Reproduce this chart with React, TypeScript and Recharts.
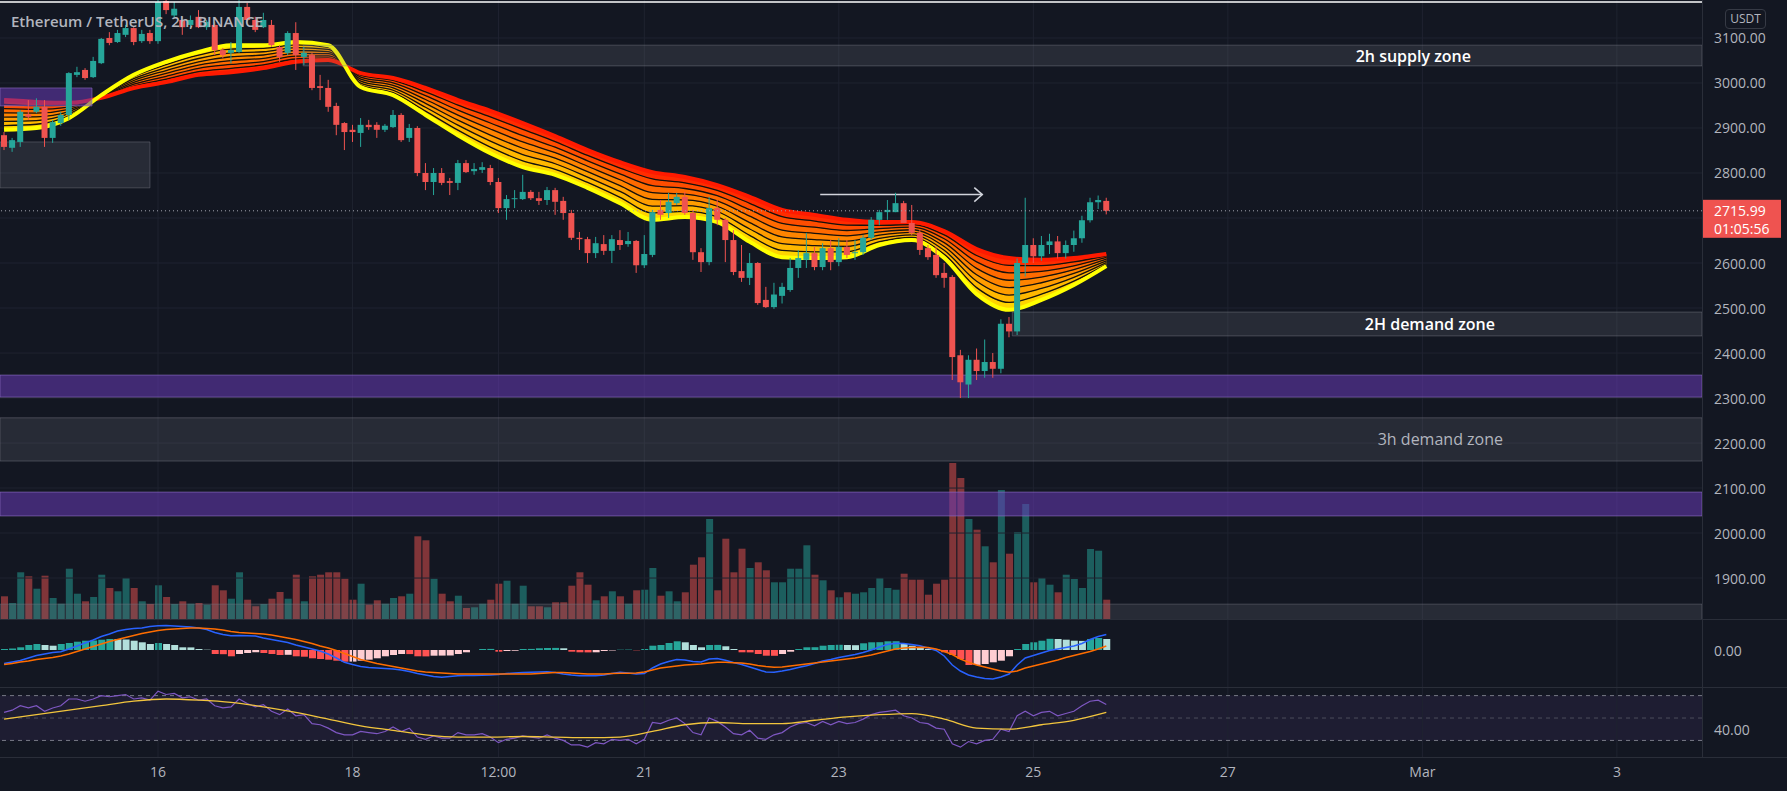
import React from 'react';
import {
  ComposedChart,
  Bar,
  Line,
  Area,
  XAxis,
  YAxis,
  ReferenceLine,
  ReferenceArea,
  Cell,
} from 'recharts';

// ETHUSDT 2h candles (index 0 = Feb 14 10:00, one slot per 2h)
const opens = [
  2884, 2856, 2869, 2930, 2936, 2947, 2878, 2911, 2929, 3018,
  3029, 3013, 3044, 3100, 3091, 3107, 3122, 3093, 3111, 3093,
  3182, 3150, 3140, 3129, 3147, 3124, 3129, 3073, 3067, 3069,
  3169, 3140, 3124, 3129, 3080, 3067, 3111, 3058, 3062, 2993,
  2989, 2949, 2911, 2896, 2889, 2907, 2907, 2896, 2902, 2929,
  2878, 2900, 2800, 2780, 2800, 2782, 2778, 2822, 2804, 2807,
  2811, 2780, 2722, 2742, 2742, 2758, 2744, 2740, 2762, 2738,
  2711, 2656, 2653, 2622, 2642, 2627, 2651, 2642, 2649, 2595,
  2618, 2718, 2711, 2733, 2747, 2711, 2624, 2602, 2722, 2696,
  2651, 2582, 2567, 2600, 2518, 2502, 2527, 2540, 2589, 2607,
  2622, 2591, 2633, 2602, 2636, 2622, 2624, 2656, 2696, 2713,
  2713, 2733, 2689, 2667, 2633, 2618, 2578, 2569, 2395, 2330,
  2385, 2360, 2380, 2365, 2465, 2448, 2600, 2640, 2615, 2640,
  2648, 2622, 2640, 2655, 2695, 2735, 2738,
];
const highs = [
  2891, 2878, 2940, 2962, 2966, 2962, 2918, 2936, 3024, 3036,
  3033, 3058, 3100, 3113, 3118, 3129, 3124, 3118, 3118, 3195,
  3200, 3180, 3147, 3150, 3162, 3140, 3135, 3078, 3091, 3184,
  3178, 3147, 3156, 3140, 3084, 3115, 3135, 3080, 3067, 3018,
  3007, 2956, 2913, 2907, 2922, 2918, 2913, 2909, 2940, 2933,
  2909, 2904, 2822, 2811, 2811, 2789, 2829, 2829, 2822, 2824,
  2818, 2789, 2751, 2762, 2796, 2762, 2758, 2769, 2767, 2747,
  2718, 2669, 2658, 2658, 2662, 2662, 2673, 2669, 2651, 2662,
  2718, 2740, 2756, 2756, 2758, 2718, 2633, 2747, 2740, 2700,
  2673, 2640, 2622, 2602, 2547, 2556, 2556, 2611, 2629, 2667,
  2636, 2644, 2651, 2655, 2651, 2651, 2662, 2702, 2718, 2740,
  2756, 2738, 2729, 2673, 2640, 2636, 2600, 2573, 2407, 2395,
  2410, 2430, 2400, 2475, 2480, 2610, 2745, 2655, 2660, 2665,
  2660, 2650, 2672, 2705, 2745, 2750, 2745,
];
const lows = [
  2851, 2847, 2858, 2918, 2933, 2858, 2867, 2905, 2918, 3013,
  3007, 3011, 3042, 3084, 3089, 3102, 3084, 3089, 3087, 3087,
  3153, 3145, 3107, 3122, 3122, 3118, 3062, 3055, 3044, 3067,
  3133, 3113, 3122, 3080, 3047, 3062, 3029, 3040, 2984, 2962,
  2936, 2884, 2851, 2869, 2858, 2896, 2878, 2891, 2900, 2869,
  2869, 2793, 2762, 2751, 2773, 2751, 2762, 2800, 2796, 2800,
  2773, 2711, 2696, 2722, 2740, 2740, 2729, 2729, 2707, 2696,
  2651, 2629, 2600, 2611, 2618, 2600, 2629, 2636, 2578, 2589,
  2613, 2696, 2700, 2729, 2707, 2607, 2580, 2595, 2684, 2602,
  2573, 2558, 2551, 2507, 2500, 2498, 2510, 2536, 2567, 2589,
  2584, 2584, 2584, 2593, 2611, 2607, 2618, 2651, 2684, 2696,
  2713, 2689, 2662, 2618, 2607, 2567, 2545, 2340, 2300, 2300,
  2340, 2345, 2345, 2355, 2435, 2440, 2570, 2600, 2605, 2620,
  2610, 2610, 2625, 2645, 2690, 2720, 2708,
];
const closes = [
  2858, 2873, 2936, 2925, 2947, 2878, 2913, 2929, 3022, 3024,
  3011, 3049, 3098, 3089, 3111, 3122, 3091, 3109, 3093, 3180,
  3162, 3165, 3124, 3140, 3124, 3136, 3073, 3062, 3073, 3169,
  3140, 3118, 3140, 3084, 3058, 3111, 3062, 3067, 2989, 2989,
  2947, 2907, 2891, 2891, 2907, 2902, 2896, 2905, 2929, 2873,
  2900, 2800, 2780, 2800, 2778, 2778, 2822, 2802, 2809, 2813,
  2780, 2722, 2742, 2744, 2758, 2744, 2738, 2762, 2736, 2711,
  2656, 2653, 2622, 2644, 2627, 2653, 2640, 2649, 2595, 2620,
  2713, 2707, 2736, 2747, 2711, 2624, 2602, 2722, 2696, 2651,
  2580, 2567, 2600, 2511, 2502, 2530, 2547, 2589, 2611, 2622,
  2591, 2633, 2602, 2636, 2618, 2624, 2656, 2696, 2713, 2718,
  2733, 2689, 2667, 2629, 2613, 2573, 2567, 2391, 2335, 2385,
  2360, 2380, 2365, 2465, 2448, 2600, 2640, 2615, 2640, 2648,
  2622, 2640, 2655, 2695, 2735, 2740, 2715.99,
];
const volumes = [
  22.7, 16, 46.7, 42.7, 30.3, 43.3, 21, 15.3, 50.3, 25.3,
  17.7, 22, 44.3, 31, 27.7, 41, 31, 17.7, 15, 33.7,
  22, 15, 17.7, 15.3, 16, 14.3, 33.7, 28.7, 20.3, 46.7,
  19.3, 12.7, 15, 20.3, 27, 20.3, 44.3, 17.7, 42.7, 44.3,
  46.7, 46.7, 40.3, 19.3, 35.3, 14.3, 18.7, 15.3, 21, 22.7,
  25.3, 82.7, 78.7, 40.3, 25.3, 17.7, 23.3, 11, 11.7, 15.3,
  19.3, 35.3, 38.3, 15.3, 33.3, 12.7, 12.7, 11.7, 16.7, 16.7,
  33.3, 46.7, 34.3, 18.7, 22.7, 27.7, 22.7, 15.3, 28.7, 29.3,
  51, 23.3, 27.7, 17.7, 26.7, 54.3, 61.7, 100, 28.7, 80.3,
  46.7, 70.3, 51, 56.7, 48.7, 36.7, 36.7, 50.3, 50.3, 73.7,
  44.3, 38.7, 28.7, 21.7, 26.7, 25.3, 26.7, 31, 41, 31,
  29.3, 45.3, 39.3, 39.3, 24.3, 35.3, 39.3, 156, 141, 100,
  89.3, 72.7, 56.7, 129, 65.3, 87, 115, 36.7, 41, 34.3,
  26.7, 44.3, 40, 31, 70, 68.3, 19.3,
];
const macdLine = [
  -13.5, -12, -10.5, -8, -5.5, -4, -2.5, -1.7, 1, 4,
  7, 10, 13.5, 16, 19, 20.5, 21.5, 22, 23.5, 24.3,
  24.5, 24, 23.5, 23, 22, 20.5, 17.5, 15.5, 14.3, 14.5,
  14.3, 14, 12, 10.5, 9, 7.5, 5, 3, 1, -1,
  -4, -8, -12.3, -14.5, -16.5, -17.5, -18, -18.5, -19, -20,
  -21.5, -23.5, -25, -26.5, -27.3, -26.5, -25.7, -25.5, -25.5, -25.2,
  -25, -24.5, -23.5, -23, -22.5, -22.3, -22, -21.7, -22.5, -24,
  -25, -25.7, -25.7, -25.7, -25, -23.5, -22.3, -23, -24, -23.5,
  -18, -14, -11.5, -9.5, -10, -11.5, -12, -9, -8.5, -10.3,
  -12.5, -14.5, -17, -19.5, -22, -22.3, -21, -19.5, -17.5, -15.7,
  -13.5, -11, -9.5, -7.5, -6, -4.5, -2.5, 0, 3, 5.5,
  6.7, 6.5, 5.5, 4.3, 2, -0.5, -6, -15, -21, -25,
  -27, -28.5, -29, -27, -24, -15, -8, -5.5, -3, -0.5,
  1, 2.5, 4, 6.5, 10.5, 13.5, 15.5,
];
const signalLine = [
  -14.5, -13.5, -12, -11, -9.5, -8.5, -7.5, -6, -4, -1.5,
  1, 3.5, 6, 8.5, 10.5, 12.5, 14.5, 16.5, 18, 19.5,
  20.5, 21, 21.5, 22, 22, 21.5, 21, 20, 18.5, 17.5,
  17, 16.5, 16, 15, 13.5, 12, 10.5, 8.5, 6.5, 4,
  2, -0.5, -3.5, -6.5, -9.5, -11.5, -13.5, -15, -16.5, -18,
  -19.5, -21, -22, -22.5, -23, -23.5, -24, -24, -24, -24,
  -24, -24, -24, -24, -24, -24, -23.5, -23, -22.5, -22.5,
  -23, -23.5, -24, -24, -24, -23.5, -23.3, -23.3, -23, -22,
  -20, -18, -17, -16, -15, -14.5, -14, -13, -12.3, -12.3,
  -12.7, -13, -14, -15.5, -16.5, -17.3, -17, -16, -15, -14,
  -13, -12, -11, -10, -9, -8, -6.5, -5, -3, -1,
  1, 2, 2.5, 2.7, 2.5, 1, -1.5, -4.5, -9, -12.3,
  -15, -17, -19, -21, -22.3, -21, -18, -16, -14, -12,
  -10, -7.5, -5.5, -3.5, -1.5, 1, 4,
];
const macdHist = [
  1, 1.5, 2.7, 5, 6, 5, 4.3, 6, 7, 8.3,
  9.3, 9.5, 10.3, 11, 10.9, 10.6, 9.3, 7.7, 6, 7,
  6, 5, 2.7, 2.6, 1, 0.3, -4, -4.2, -6.3, -4,
  -3, -2.3, -3, -4, -5, -4.8, -6.3, -6.7, -8.3, -9,
  -9.7, -10.7, -11.7, -11.6, -10.7, -9.7, -8.3, -6.3, -5, -4,
  -4.1, -6.3, -6.4, -5.7, -5.6, -5.5, -4, -2.3, 0, 1,
  1.1, -1.7, -1, -0.7, 1, 1.1, 1.7, 2, 2.1, 1.7,
  -1.7, -2.3, -2.4, -2.3, -1, -0.5, 0.3, 0.4, -0.3, 1,
  4.3, 5, 7, 8.7, 7.7, 5, 2.7, 5, 5.1, 3.7,
  1, -2.3, -2.4, -4, -5.7, -5.8, -4, -1.7, 1, 2.7,
  2.8, 4.3, 5, 5.2, 5, 4.8, 6.7, 7.7, 7.8, 8.7,
  8.8, 6, 4.3, 2.7, 1, 0.3, -2.3, -5, -9, -15,
  -14.9, -14, -12.3, -10.7, -6.3, 1, 6, 7.7, 9.3, 11.2,
  11, 10.3, 9.3, 9.1, 11, 12, 11,
];
const rsiLine = [
  55, 57, 61, 59, 61, 56, 59, 61, 67, 67,
  65, 67, 70, 69, 70, 71, 67, 68, 66, 74,
  71, 72, 68, 69, 66, 67, 61, 59, 60, 67,
  63, 60, 62, 56, 53, 58, 52, 53, 45, 44,
  41, 37, 35, 35, 38, 37, 36, 38, 42, 38,
  41, 33, 31, 34, 32, 32, 37, 35, 35, 36,
  33, 28, 31, 32, 34, 33, 32, 35, 32, 30,
  26, 26, 24, 28, 27, 31, 30, 31, 27, 31,
  46, 45, 48, 50, 45, 37, 35, 50, 47, 42,
  36, 35, 39, 32, 31, 35, 37, 42, 45, 46,
  43, 47, 44, 47, 45, 46, 49, 53, 55, 56,
  57, 52, 50, 46, 45, 41, 40, 27, 24, 29,
  27, 30, 31, 40, 38, 52, 56, 52, 55, 56,
  52, 54, 56, 61, 65, 66, 62,
];
// smooth lines, read every 4th candle
const sampleIndex = [
  0, 4, 8, 12, 16, 20, 24, 28, 32, 36, 40, 44, 48, 52, 56, 60, 64, 68,
  72, 76, 80, 84, 88, 92, 96, 100, 104, 108, 112, 116, 120, 124, 128, 132, 136,
];
const rsiMa = [
  49, 53, 57, 61, 65, 67, 66, 64, 60, 55, 49, 43, 39, 35, 33, 33, 33.5, 33,
  32.5, 33, 38, 44, 46, 45, 45, 48, 51, 53, 54, 49, 41, 40, 44, 48, 55,
];
const ribbonFast = [
  2896, 2900, 2922, 2973, 3018, 3047, 3069, 3084, 3084, 3091, 3084, 2991, 2973, 2929, 2884, 2844, 2813, 2796,
  2767, 2733, 2696, 2702, 2691, 2647, 2613, 2611, 2613, 2640, 2651, 2611, 2531, 2496, 2518, 2551, 2593,
];
const ribbonSlow = [
  2962, 2958, 2956, 2967, 2989, 3002, 3018, 3024, 3033, 3047, 3051, 3022, 3011, 2989, 2962, 2938, 2911, 2882,
  2851, 2824, 2802, 2791, 2773, 2747, 2718, 2707, 2696, 2691, 2691, 2671, 2631, 2611, 2607, 2611, 2620,
];

const priceTicks = [1900, 2000, 2100, 2200, 2300, 2400, 2500, 2600, 2700, 2800, 2900, 3000, 3100];
const dayTickIndex = [19, 43, 61, 79, 103, 127, 151, 175, 199];
const dayTickLabels = ['16', '18', '12:00', '21', '23', '25', '27', 'Mar', '3'];

// drawn zones: label, low, high, start slot, end slot, kind
const zoneLabels = ['', '', '2h supply zone', '2H demand zone', '', '3h demand zone', '', ''];
const zoneLow = [2767, 2949, 3038, 2438, 2302, 2160, 2038, 1807];
const zoneHigh = [2869, 2989, 3084, 2491, 2351, 2256, 2091, 1842];
const zoneStart = [-0.5, -0.5, 36.9, 124.4, -0.5, -0.5, -0.5, -0.5];
const zoneEnd = [18, 10.85, 209.5, 209.5, 209.5, 209.5, 209.5, 209.5];
const zoneKind = ['gray', 'purple', 'gray', 'gray', 'purple', 'gray', 'purple', 'gray'];

const arrowLevel = 2752;
const arrowFrom = 100.7;
const arrowTo = 120.7;
const topLineLevel = 3180;
const lastPrice = 2715.99;
const countdown = '01:05:56';

const W = 1787;
const AXIS_W = 85;
const SLOTS = 210;
const MAIN_H = 619;
const MACD_H = 68;
const RSI_H = 70;
const TIME_H = 34;
const PRICE_DOMAIN: [number, number] = [1809, 3184.4];
const NUM_DOMAIN: [number, number] = [-0.5, SLOTS - 0.5];

const BG = '#131722';
const UP = '#26a69a';
const DOWN = '#ef5350';
const GRID = '#1f2330';
const SEP = '#2a2e39';
const TEXT = '#b2b5be';
const FONT = '"Open Sans", "Noto Sans", sans-serif';
const bandFills = ['#ffd400', '#ffb800', '#ff9d00', '#ff8400', '#ff6a00', '#ff4d00', '#ff2c00'];

const LAST = closes.length - 1;
// the last-price tag covers the scale label next to it
const axisTicks = priceTicks.filter((t) => Math.abs(t - lastPrice) > 40);

const bandRows = Array.from({ length: SLOTS }, (_, i) => {
  if (i > LAST) return { i } as any;
  return {
    i,
    o: opens[i],
    h: highs[i],
    l: lows[i],
    c: closes[i],
    range: [lows[i], highs[i]],
    vol: volumes[i],
    macd: macdLine[i],
    signal: signalLine[i],
    hist: macdHist[i],
    rsi: rsiLine[i],
  } as any;
});
sampleIndex.forEach((idx, n) => {
  bandRows[idx].rsiMa = rsiMa[n];
});

const ribbonRows = sampleIndex.map((idx, n) => {
  const row: any = { i: idx };
  const f = ribbonFast[n];
  const s = ribbonSlow[n];
  const lv: number[] = [];
  for (let k = 0; k <= 7; k++) lv.push(f + ((s - f) * k) / 7);
  for (let k = 0; k <= 7; k++) row['l' + k] = lv[k];
  for (let k = 0; k < 7; k++) row['b' + k] = [lv[k], lv[k + 1]];
  return row;
});

const histColor = (i: number) => {
  const h = macdHist[i];
  const prev = i > 0 ? macdHist[i - 1] : 0;
  if (h >= 0) return h >= prev ? '#26a69a' : '#b2dfdb';
  return h < prev ? '#ff5252' : '#ffcdd2';
};

const Candle = (props: any) => {
  const { x, y, width, height, payload } = props;
  if (!payload || payload.o == null) return null;
  const { o, h, l, c } = payload;
  const color = c >= o ? UP : DOWN;
  const k = h === l ? 0 : height / (h - l);
  const top = y + (h - Math.max(o, c)) * k;
  const bot = y + (h - Math.min(o, c)) * k;
  const cx = x + width / 2;
  return (
    <g>
      <line x1={cx} x2={cx} y1={y} y2={y + height} stroke={color} strokeWidth={1} />
      <rect x={x} y={top} width={width} height={Math.max(1, bot - top)} fill={color} />
    </g>
  );
};

const rightTick = (fmt: (v: number) => string) => (p: any) => (
  <text
    x={1714}
    y={p.y}
    fill={TEXT}
    fontSize={14}
    fontFamily={FONT}
    dominantBaseline="central"
  >
    {fmt(p.payload.value)}
  </text>
);

const PriceTag = ({ viewBox }: any) => {
  const x = viewBox.x + viewBox.width;
  const y = viewBox.y;
  return (
    <g fontFamily={FONT} fontSize={14} fill="#ffffff">
      <rect x={x} y={y - 11} width={79} height={38} fill={DOWN} />
      <text x={x + 12} y={y} dominantBaseline="central">
        {lastPrice.toFixed(2)}
      </text>
      <text x={x + 12} y={y + 18} dominantBaseline="central">
        {countdown}
      </text>
    </g>
  );
};

const Arrow = (p: any) => (
  <g stroke="#d1d4dc" strokeWidth={1.5} fill="none">
    <line x1={p.x1} y1={p.y1} x2={p.x2} y2={p.y2} />
    <polyline points={`${p.x2 - 8},${p.y2 - 7} ${p.x2},${p.y2} ${p.x2 - 8},${p.y2 + 7}`} />
  </g>
);

const zoneLabel = (text: string, right: number, color: string, weight: number) => (p: any) => {
  const vb = p.viewBox;
  return (
    <text
      x={vb.x + vb.width - right}
      y={vb.y + vb.height / 2}
      textAnchor="end"
      dominantBaseline="central"
      fill={color}
      fontSize={16}
      fontWeight={weight}
      fontFamily={FONT}
    >
      {text}
    </text>
  );
};
const labelRight = [0, 0, 231, 207, 0, 199, 0, 0];

const layer = (top: number): React.CSSProperties => ({ position: 'absolute', left: 0, top });

export default function App() {
  return (
    <div
      style={{
        position: 'absolute',
        left: 0,
        top: 0,
        width: W,
        height: 791,
        background: BG,
        overflow: 'hidden',
        fontFamily: FONT,
      }}
    >
      {/* grid + volume */}
      <div style={layer(0)}>
        <ComposedChart width={W} height={MAIN_H} data={bandRows} margin={{ top: 0, right: AXIS_W, bottom: 0, left: 0 }}>
          <XAxis dataKey="i" type="category" scale="band" hide />
          <YAxis yAxisId="p" type="number" domain={PRICE_DOMAIN} allowDataOverflow hide />
          <YAxis yAxisId="v" type="number" domain={[0, MAIN_H]} allowDataOverflow hide />
          {priceTicks.map((t) => (
            <ReferenceLine key={'h' + t} yAxisId="p" y={t} stroke={GRID} />
          ))}
          {dayTickIndex.map((d) => (
            <ReferenceLine key={'v' + d} yAxisId="p" x={d} stroke={GRID} />
          ))}
          <Bar yAxisId="v" dataKey="vol" barSize={7} isAnimationActive={false}>
            {bandRows.map((r, n) => (
              <Cell key={n} fill={r.c >= r.o ? 'rgba(38,166,154,0.5)' : 'rgba(239,83,80,0.5)'} />
            ))}
          </Bar>
        </ComposedChart>
      </div>

      {/* EMA ribbon */}
      <div style={layer(0)}>
        <ComposedChart width={W} height={MAIN_H} data={ribbonRows} margin={{ top: 0, right: AXIS_W, bottom: 0, left: 0 }}>
          <XAxis dataKey="i" type="number" domain={NUM_DOMAIN} allowDataOverflow hide />
          <YAxis type="number" domain={PRICE_DOMAIN} allowDataOverflow hide />
          {bandFills.map((col, k) => (
            <Area
              key={'b' + k}
              dataKey={'b' + k}
              type="monotone"
              stroke="none"
              fill={col}
              fillOpacity={1}
              isAnimationActive={false}
            />
          ))}
          {[1, 2, 3, 4, 5, 6].map((k) => (
            <Line
              key={'l' + k}
              dataKey={'l' + k}
              type="monotone"
              stroke="#15110c"
              strokeWidth={1.3}
              dot={false}
              isAnimationActive={false}
            />
          ))}
          <Line dataKey="l7" type="monotone" stroke="#ff1a00" strokeWidth={4} dot={false} isAnimationActive={false} />
          <Line dataKey="l0" type="monotone" stroke="#ffff00" strokeWidth={4} dot={false} isAnimationActive={false} />
        </ComposedChart>
      </div>

      {/* zones and drawings */}
      <div style={layer(0)}>
        <ComposedChart width={W} height={MAIN_H} data={ribbonRows} margin={{ top: 0, right: AXIS_W, bottom: 0, left: 0 }}>
          <XAxis dataKey="i" type="number" domain={NUM_DOMAIN} allowDataOverflow hide />
          <YAxis type="number" domain={PRICE_DOMAIN} allowDataOverflow hide />
          {zoneLow.map((lo, n) => (
            <ReferenceArea
              key={'z' + n}
              x1={zoneStart[n]}
              x2={zoneEnd[n]}
              y1={lo}
              y2={zoneHigh[n]}
              fill={zoneKind[n] === 'purple' ? 'rgba(103,58,183,0.55)' : 'rgba(120,123,134,0.2)'}
              fillOpacity={1}
              stroke={zoneKind[n] === 'purple' ? 'rgba(149,117,205,0.55)' : 'rgba(120,123,134,0.45)'}
              strokeWidth={1}
              ifOverflow="visible"
              label={
                zoneLabels[n]
                  ? zoneLabel(
                      zoneLabels[n],
                      labelRight[n],
                      zoneLabels[n].startsWith('3h') ? TEXT : '#ffffff',
                      zoneLabels[n].startsWith('3h') ? 400 : 600,
                    )
                  : undefined
              }
            />
          ))}
          <ReferenceLine
            segment={[
              { x: arrowFrom, y: arrowLevel },
              { x: arrowTo, y: arrowLevel },
            ]}
            stroke="#d1d4dc"
            shape={Arrow}
          />
        </ComposedChart>
      </div>

      {/* candles + price scale */}
      <div style={layer(0)}>
        <ComposedChart width={W} height={MAIN_H} data={bandRows} margin={{ top: 0, right: 0, bottom: 0, left: 0 }}>
          <XAxis dataKey="i" type="category" scale="band" hide />
          <YAxis
            orientation="right"
            width={AXIS_W}
            type="number"
            domain={PRICE_DOMAIN}
            allowDataOverflow
            ticks={axisTicks}
            axisLine={false}
            tickLine={false}
            tick={rightTick((v) => v.toFixed(2))}
          />
          <ReferenceLine y={topLineLevel} stroke="#ffffff" strokeWidth={1.5} />
          <Bar dataKey="range" barSize={6} shape={(p: any) => <Candle {...p} />} isAnimationActive={false} />
          <ReferenceLine
            y={lastPrice}
            stroke="#a3a6af"
            strokeDasharray="1 3"
            label={(p: any) => <PriceTag viewBox={p.viewBox} />}
          />
        </ComposedChart>
      </div>

      {/* MACD */}
      <div style={layer(MAIN_H)}>
        <ComposedChart width={W} height={MACD_H} data={bandRows} margin={{ top: 0, right: 0, bottom: 0, left: 0 }}>
          <XAxis dataKey="i" type="category" scale="band" hide />
          <YAxis
            orientation="right"
            width={AXIS_W}
            type="number"
            domain={[-37, 31]}
            allowDataOverflow
            ticks={[0]}
            axisLine={false}
            tickLine={false}
            tick={rightTick((v) => v.toFixed(2))}
          />
          {dayTickIndex.map((d) => (
            <ReferenceLine key={'mv' + d} x={d} stroke={GRID} />
          ))}
          <Bar dataKey="hist" barSize={7} isAnimationActive={false}>
            {bandRows.map((r, n) => (
              <Cell key={n} fill={n <= LAST ? histColor(n) : 'none'} />
            ))}
          </Bar>
          <Line dataKey="macd" stroke="#2962ff" strokeWidth={1.5} dot={false} isAnimationActive={false} />
          <Line dataKey="signal" stroke="#ff6d00" strokeWidth={1.5} dot={false} isAnimationActive={false} />
        </ComposedChart>
      </div>

      {/* RSI + time scale */}
      <div style={layer(MAIN_H + MACD_H)}>
        <ComposedChart width={W} height={RSI_H + TIME_H} data={bandRows} margin={{ top: 0, right: 0, bottom: 0, left: 0 }}>
          <XAxis
            dataKey="i"
            type="number"
            domain={NUM_DOMAIN}
            allowDataOverflow
            height={TIME_H}
            ticks={dayTickIndex}
            interval={0}
            axisLine={false}
            tickLine={false}
            tickSize={0}
            tickMargin={0}
            tick={(p: any) => (
              <text
                x={p.x}
                y={p.y + 14}
                textAnchor="middle"
                dominantBaseline="central"
                fill={TEXT}
                fontSize={14}
                fontFamily={FONT}
              >
                {dayTickLabels[dayTickIndex.indexOf(p.payload.value)]}
              </text>
            )}
          />
          <YAxis
            orientation="right"
            width={AXIS_W}
            type="number"
            domain={[15.2, 77.7]}
            allowDataOverflow
            ticks={[40]}
            axisLine={false}
            tickLine={false}
            tick={rightTick((v) => v.toFixed(2))}
          />
          {dayTickIndex.map((d) => (
            <ReferenceLine key={'rv' + d} x={d} stroke={GRID} />
          ))}
          <ReferenceArea y1={30} y2={70} fill="rgba(126,87,194,0.1)" fillOpacity={1} stroke="none" />
          <ReferenceLine y={70} stroke="#787b86" strokeDasharray="4 4" />
          <ReferenceLine y={50} stroke="#787b86" strokeOpacity={0.5} strokeDasharray="4 4" />
          <ReferenceLine y={30} stroke="#787b86" strokeDasharray="4 4" />
          <Line dataKey="rsi" stroke="#7e57c2" strokeWidth={1.2} dot={false} isAnimationActive={false} />
          <Line
            dataKey="rsiMa"
            type="monotone"
            connectNulls
            stroke="#f2c53d"
            strokeWidth={1.3}
            dot={false}
            isAnimationActive={false}
          />
        </ComposedChart>
      </div>

      {/* pane separators and price-scale border */}
      <div style={{ position: 'absolute', left: 0, top: MAIN_H, width: W, height: 1, background: SEP }} />
      <div style={{ position: 'absolute', left: 0, top: MAIN_H + MACD_H, width: W, height: 1, background: SEP }} />
      <div style={{ position: 'absolute', left: 0, top: MAIN_H + MACD_H + RSI_H, width: W, height: 1, background: SEP }} />
      <div style={{ position: 'absolute', left: W - AXIS_W, top: 0, width: 1, height: MAIN_H + MACD_H + RSI_H, background: SEP }} />

      <div
        style={{
          position: 'absolute',
          left: 11,
          top: 10,
          fontSize: 15,
          fontWeight: 600,
          lineHeight: '22px',
          color: TEXT,
          whiteSpace: 'nowrap',
        }}
      >
        Ethereum / TetherUS, 2h, BINANCE
      </div>
      <div
        style={{
          position: 'absolute',
          left: 1725,
          top: 9,
          width: 41,
          height: 20,
          boxSizing: 'border-box',
          border: '1px solid #363a45',
          borderRadius: 4,
          fontSize: 12,
          lineHeight: '18px',
          textAlign: 'center',
          color: TEXT,
        }}
      >
        USDT
      </div>
    </div>
  );
}
